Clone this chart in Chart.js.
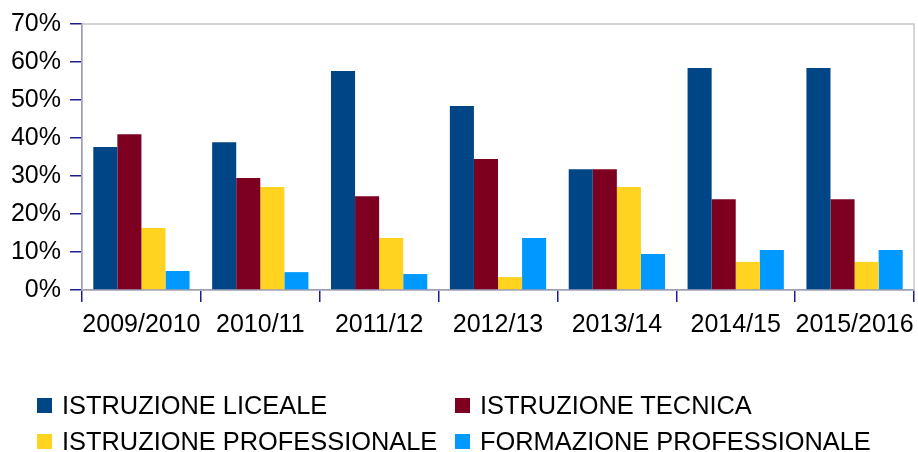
<!DOCTYPE html>
<html>
<head>
<meta charset="utf-8">
<script src="https://cdn.jsdelivr.net/npm/chart.js@4.4.0/dist/chart.umd.min.js"></script>
<style>
  html, body { margin: 0; padding: 0; background: #ffffff; }
  #wrap { position: relative; width: 918px; height: 452px; overflow: hidden; }
  #c { position: absolute; left: 0; top: 0; }
  .lg { position: absolute; display: flex; align-items: center; height: 30px;
        font-family: "Liberation Sans", Arial, sans-serif; font-size: 25.4px; color: #000; white-space: nowrap; }
  .lg .sq { width: 15px; height: 15px; margin-right: 10px; flex: none; }
</style>
</head>
<body>
<div id="wrap">
  <canvas id="c" width="918" height="452"></canvas>
  <div id="legend"></div>
</div>
<script>
const categories = ["2009/2010", "2010/11", "2011/12", "2012/13", "2013/14", "2014/15", "2015/2016"];
const seriesNames = ["ISTRUZIONE LICEALE", "ISTRUZIONE TECNICA", "ISTRUZIONE PROFESSIONALE", "FORMAZIONE PROFESSIONALE"];
const istruzioneLiceale = [37.6, 38.9, 57.6, 48.4, 31.8, 58.4, 58.4];
const istruzioneTecnica = [41.0, 29.5, 24.7, 34.5, 31.8, 23.9, 23.9];
const istruzioneProfessionale = [16.3, 27.1, 13.7, 3.4, 27.1, 7.4, 7.4];
const formazioneProfessionale = [5.0, 4.7, 4.2, 13.7, 9.5, 10.5, 10.5];
const yTicks = [0, 10, 20, 30, 40, 50, 60, 70];
const colors = ["#004586", "#7e0021", "#ffd320", "#0099ff"];

const seriesValues = [istruzioneLiceale, istruzioneTecnica, istruzioneProfessionale, formazioneProfessionale];
const axisColor = "#1e1e8e";
const font = { family: "'Liberation Sans', Arial, sans-serif", size: 25 };

const plotBorder = {
  id: 'plotBorder',
  beforeDatasetsDraw(chart) {
    const a = chart.chartArea, ctx = chart.ctx;
    ctx.save();
    ctx.strokeStyle = "#c8c8c8";
    ctx.lineWidth = 1.5;
    ctx.strokeRect(a.left, a.top, a.right - a.left, a.bottom - a.top);
    ctx.restore();
  }
};

new Chart(document.getElementById('c'), {
  type: 'bar',
  data: {
    labels: categories,
    datasets: seriesNames.map((n, i) => ({
      label: n,
      data: seriesValues[i],
      backgroundColor: colors[i],
      borderWidth: 0,
      categoryPercentage: 0.81,
      barPercentage: 1.0
    }))
  },
  options: {
    responsive: false,
    animation: false,
    layout: { padding: { top: 24, right: 4, left: 0, bottom: 0 } },
    plugins: { legend: { display: false }, tooltip: { enabled: false } },
    scales: {
      x: {
        afterFit(s) { s.height = 162; s.paddingRight = 0; s.paddingLeft = 0; },
        grid: { display: true, drawOnChartArea: false, drawTicks: true, tickLength: 12, color: axisColor, lineWidth: 1.5, offset: true },
        border: { display: true, color: axisColor, width: 1.5 },
        ticks: { color: "#000", font: font, padding: 8, maxRotation: 0, autoSkip: false }
      },
      y: {
        min: 0, max: 70,
        afterFit(s) { s.width = 82; },
        afterBuildTicks(s) { s.ticks = yTicks.map(v => ({ value: v })); },
        grid: { display: true, drawOnChartArea: false, drawTicks: true, tickLength: 12, color: axisColor, lineWidth: 1.5 },
        border: { display: true, color: axisColor, width: 1.5 },
        ticks: { color: "#000", font: font, padding: 9, callback: v => v + "%" }
      }
    }
  },
  plugins: [plotBorder]
});

// HTML legend in two aligned columns
const lg = document.getElementById('legend');
const pos = [[37, 390], [455, 390], [37, 426], [455, 426]];
seriesNames.forEach((n, i) => {
  const d = document.createElement('div');
  d.className = 'lg';
  d.style.left = pos[i][0] + 'px';
  d.style.top = pos[i][1] + 'px';
  const sq = document.createElement('span');
  sq.className = 'sq';
  sq.style.background = colors[i];
  const t = document.createElement('span');
  t.textContent = n;
  d.appendChild(sq); d.appendChild(t);
  lg.appendChild(d);
});
</script>
</body>
</html>
